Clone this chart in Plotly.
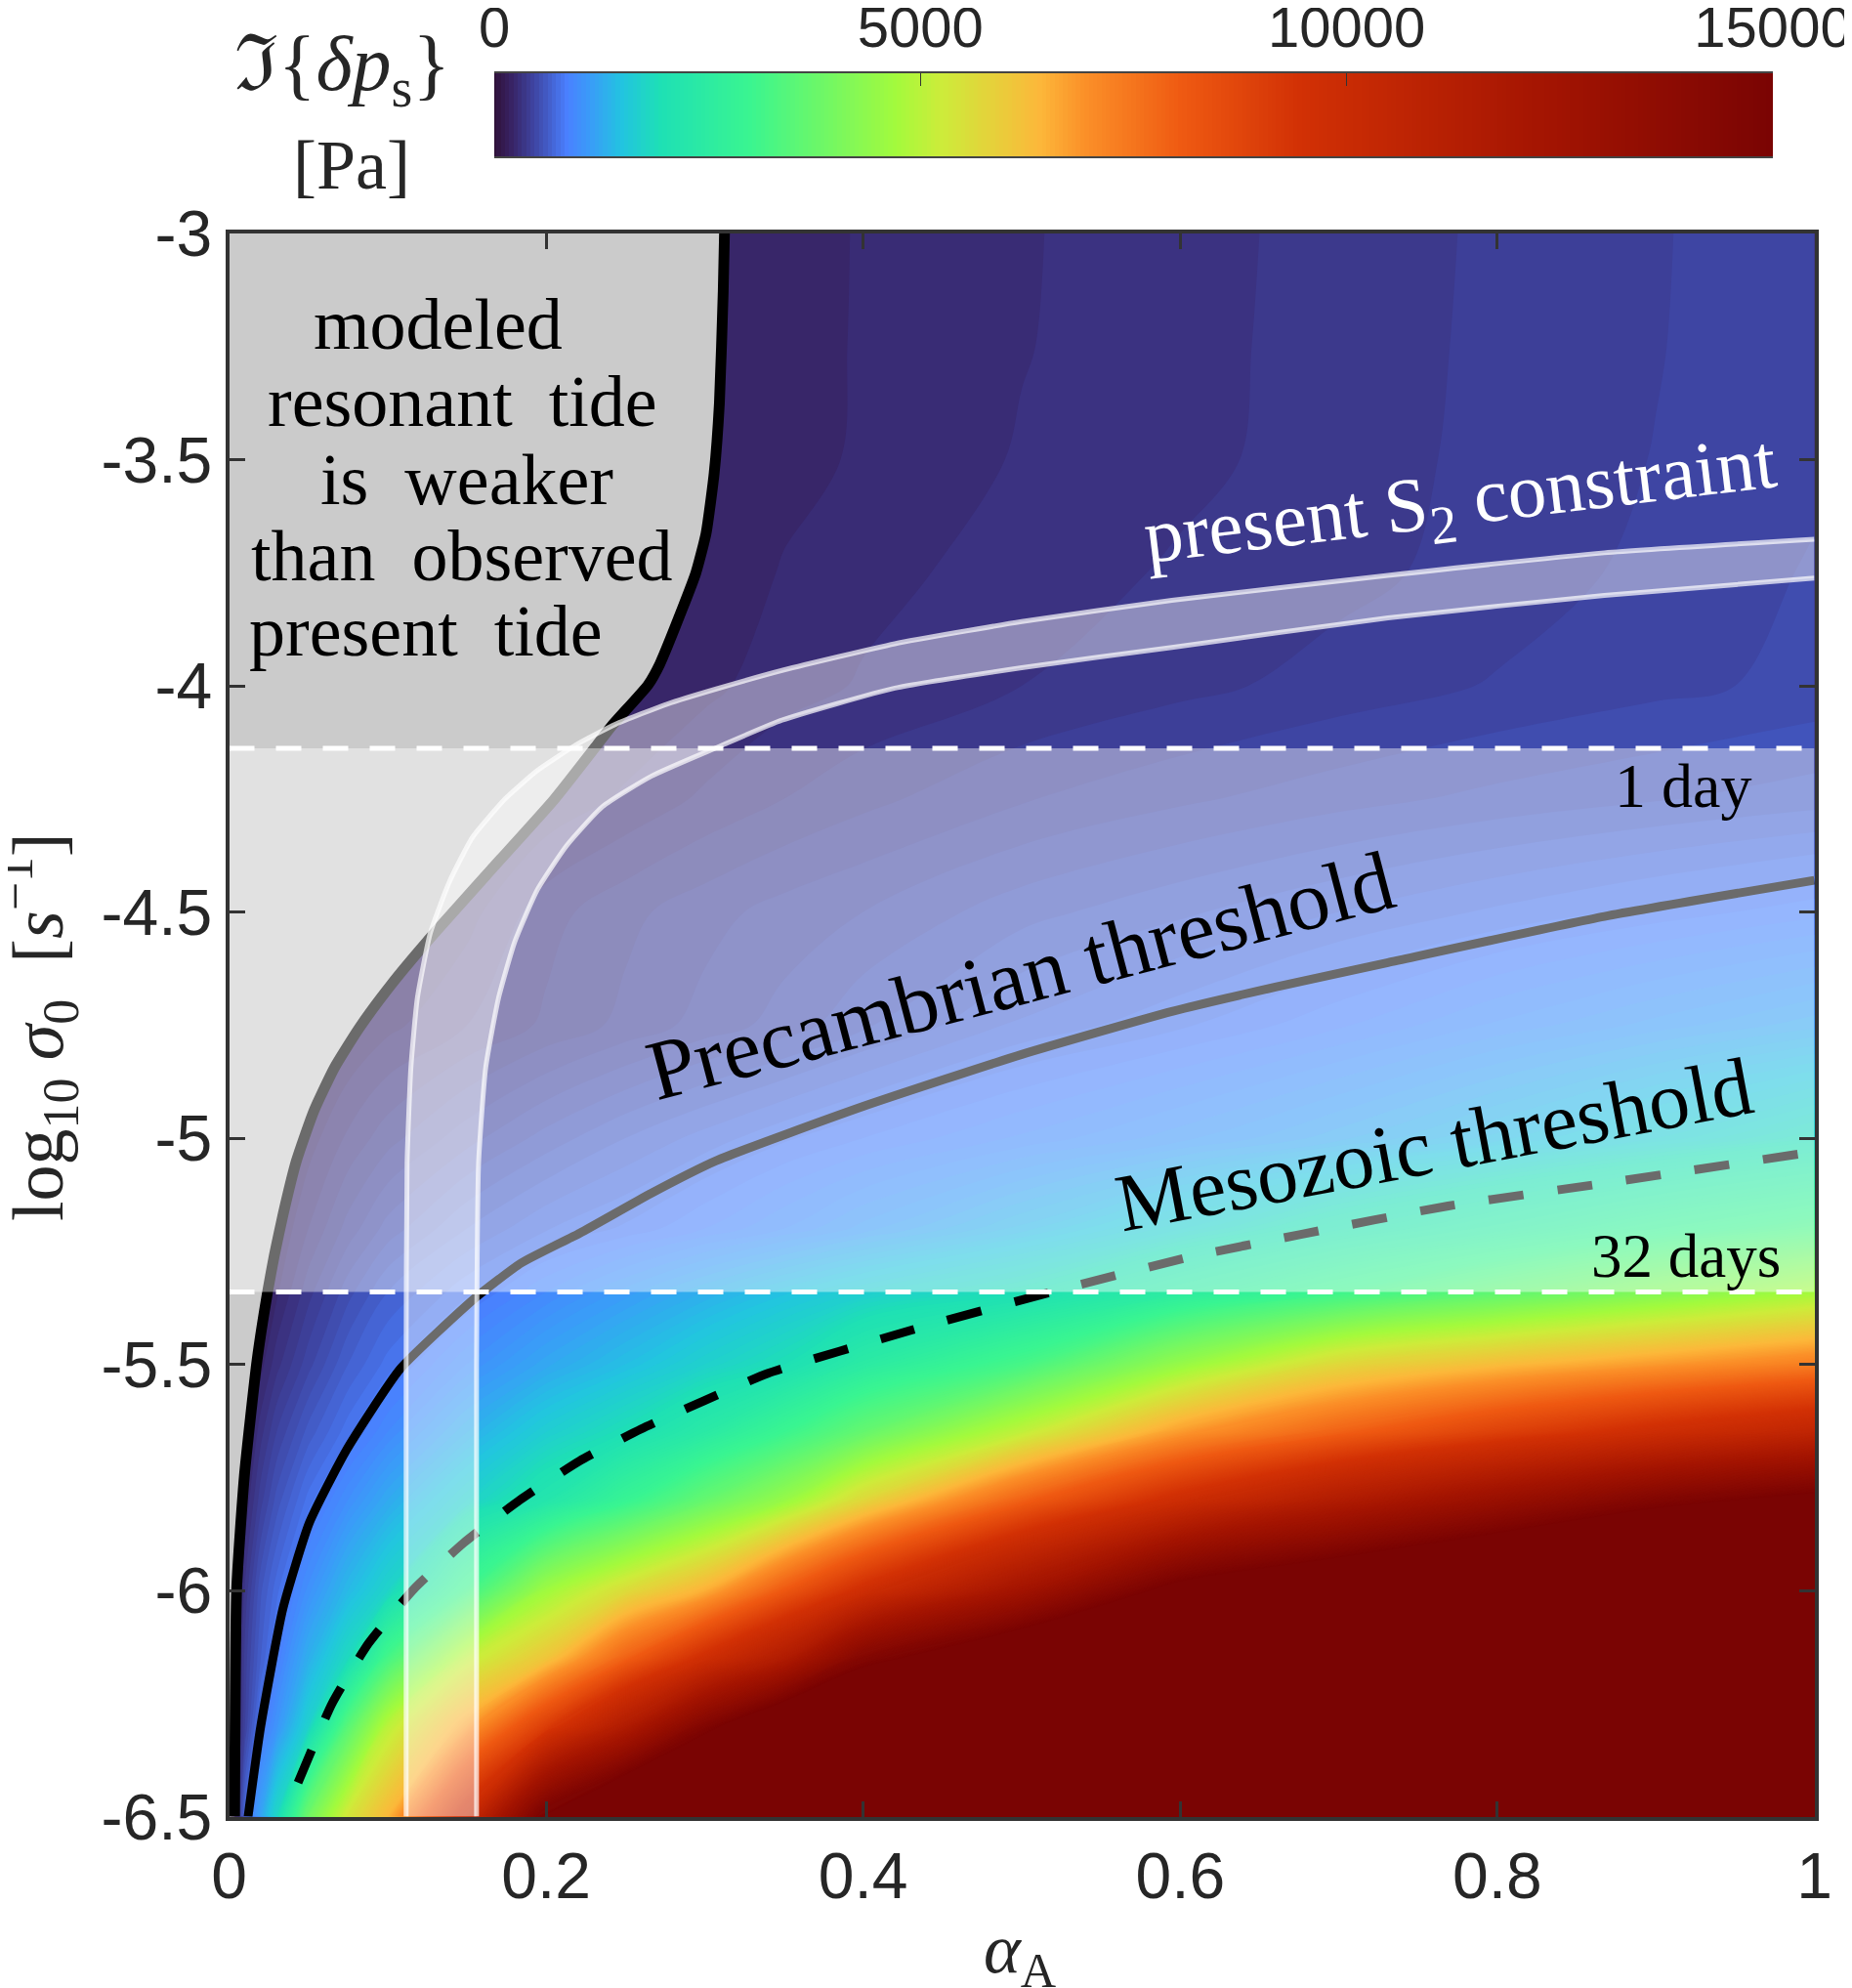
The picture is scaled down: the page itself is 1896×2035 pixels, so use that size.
"""Imaginary surface pressure response over alpha_A and log10 sigma_0, with tide thresholds."""

import plotly.graph_objects as go

# grid (Pa)
ALPHA = [0, 0.005, 0.01, 0.02, 0.03, 0.05, 0.075, 0.1, 0.15, 0.2, 0.25, 0.3, 0.35, 0.4, 0.5, 0.6, 0.7, 0.8, 0.9, 1]
LOG_SIGMA = [-3, -3.25, -3.5, -3.75, -4, -4.25, -4.5, -4.75, -5, -5.2, -5.34, -5.5, -5.65, -5.8, -6, -6.15, -6.3, -6.5]
Z_3_00 = [0, 5, 10, 20, 30, 50, 70, 90, 110, 130, 150, 190, 225, 255, 295, 330, 370, 410, 445, 490]
Z_3_25 = [0, 5, 10, 20, 30, 50, 70, 90, 110, 130, 150, 190, 226, 256, 297, 332, 372, 412, 447, 491]
Z_3_50 = [0, 5, 10, 20, 30, 50, 70, 90, 115, 135, 160, 195, 230, 258, 305, 335, 375, 415, 452, 490]
Z_3_75 = [0, 5, 10, 20, 30, 50, 70, 90, 120, 145, 175, 205, 255, 285, 320, 358, 385, 420, 465, 505]
Z_4_00 = [0, 4, 8, 17, 25, 45, 65, 85, 120, 150, 190, 235, 280, 305, 350, 385, 420, 455, 485, 515]
Z_4_25 = [0, 5, 10, 20, 30, 50, 75, 100, 160, 210, 260, 310, 350, 385, 445, 490, 530, 565, 595, 625]
Z_4_50 = [0, 7, 15, 30, 45, 75, 110, 150, 230, 330, 385, 430, 470, 500, 580, 640, 700, 760, 820, 880]
Z_4_75 = [0, 14, 28, 55, 80, 130, 190, 235, 300, 360, 415, 470, 520, 590, 710, 790, 890, 1010, 1120, 1230]
Z_5_00 = [0, 25, 50, 100, 150, 225, 310, 380, 480, 570, 650, 720, 790, 850, 960, 1080, 1230, 1420, 1650, 1900]
Z_5_20 = [0, 35, 70, 140, 200, 300, 420, 520, 650, 745, 810, 900, 1000, 1120, 1370, 1690, 2080, 2450, 2850, 3200]
Z_5_34 = [0, 40, 85, 170, 240, 380, 530, 650, 785, 950, 1120, 1300, 1480, 1660, 1950, 2500, 3050, 3600, 4150, 4700]
Z_5_50 = [0, 70, 130, 230, 330, 480, 650, 770, 1000, 1230, 1450, 1700, 1950, 2450, 3200, 4500, 5700, 6300, 6800, 7300]
Z_5_65 = [0, 100, 190, 330, 450, 620, 780, 950, 1300, 1650, 1950, 2400, 3000, 3700, 5100, 6800, 7900, 8900, 9800, 10600]
Z_5_80 = [0, 120, 250, 430, 570, 770, 1000, 1250, 1700, 2200, 2900, 3700, 4500, 5700, 7900, 9800, 11500, 13000, 14500, 15500]
Z_6_00 = [0, 200, 360, 590, 730, 1020, 1400, 1750, 3100, 4650, 5600, 6500, 8100, 9700, 12400, 15600, 17000, 18500, 20000, 21000]
Z_6_15 = [0, 220, 420, 650, 840, 1300, 1850, 3200, 5100, 6100, 7900, 9700, 11500, 14400, 17000, 19000, 21000, 22000, 23000, 24000]
Z_6_30 = [0, 250, 450, 800, 1050, 1700, 3500, 5000, 6700, 9000, 11500, 14500, 17000, 19000, 22000, 24000, 25000, 26000, 27000, 28000]
Z_6_50 = [0, 350, 700, 1200, 1800, 3900, 5400, 6400, 10000, 15300, 18000, 20000, 22000, 24000, 26000, 28000, 29000, 30000, 31000, 32000]
Z_ROWS = [Z_3_00, Z_3_25, Z_3_50, Z_3_75, Z_4_00, Z_4_25, Z_4_50, Z_4_75, Z_5_00, Z_5_20, Z_5_34,
          Z_5_50, Z_5_65, Z_5_80, Z_6_00, Z_6_15, Z_6_30, Z_6_50]

# threshold curves
PRESENT_X = [0.3125, 0.3117, 0.3093, 0.306, 0.3009, 0.2945, 0.286, 0.2717, 0.2643, 0.2413, 0.2305, 0.2049, 0.167, 0.125,
             0.1024, 0.082, 0.0665, 0.0535, 0.0425, 0.034, 0.0285, 0.0246, 0.0177, 0.0097, 0.0048, 0.0035]
PRESENT_Y = [-3, -3.128, -3.375, -3.53, -3.663, -3.75, -3.829, -3.952, -3.998, -4.089, -4.138, -4.252, -4.40, -4.565,
             -4.66, -4.757, -4.844, -4.94, -5.05, -5.17, -5.26, -5.334, -5.49, -5.745, -5.997, -6.5]
PRECAMBRIAN_X = [0.012, 0.02, 0.034, 0.0507, 0.074, 0.108, 0.1557, 0.1844, 0.2213, 0.2663, 0.3073, 0.4, 0.5, 0.5947, 0.66, 0.731, 0.8675, 1]
PRECAMBRIAN_Y = [-6.5, -6.3, -6.04, -5.85, -5.69, -5.51, -5.352, -5.276, -5.21, -5.122, -5.05, -4.93, -4.815, -4.72, -4.666, -4.612, -4.51, -4.43]
MESOZOIC_X = [0.0435, 0.065, 0.088, 0.1166, 0.148, 0.1835, 0.221, 0.26, 0.30, 0.34, 0.43, 0.519, 0.606, 0.676, 0.769, 0.8675, 1]
MESOZOIC_Y = [-6.425, -6.25, -6.117, -5.997, -5.895, -5.80, -5.714, -5.643, -5.58, -5.52, -5.425, -5.34, -5.263, -5.213, -5.15, -5.10, -5.03]

# present S2 band edges
S2_UPPER_X = [0.1117, 0.1117, 0.1123, 0.1147, 0.1188, 0.127, 0.1393, 0.1537, 0.1741, 0.1946, 0.2192, 0.2438, 0.2766,
              0.3073, 0.35, 0.42, 0.5, 0.5947, 0.731, 0.8675, 1]
S2_UPPER_Y = [-6.5, -5.505, -5.055, -4.844, -4.69, -4.546, -4.431, -4.334, -4.25, -4.187, -4.13, -4.085, -4.04,
              -4.007, -3.965, -3.907, -3.858, -3.811, -3.756, -3.706, -3.676]
S2_LOWER_X = [0.1561, 0.1561, 0.1574, 0.1619, 0.17, 0.1803, 0.1946, 0.213, 0.2356, 0.2663, 0.3073, 0.3488, 0.42, 0.5,
              0.5947, 0.731, 0.8675, 1]
S2_LOWER_Y = [-6.5, -5.505, -5.055, -4.844, -4.69, -4.565, -4.45, -4.353, -4.267, -4.2, -4.137, -4.076, -4.005, -3.96,
              -3.915, -3.85, -3.80, -3.762]

DAY_1 = -4.138
DAYS_32 = -5.34

COLOR_FRACS = [0, 0.012, 0.033, 0.057, 0.075, 0.1, 0.13, 0.2, 0.315, 0.35, 0.426, 0.463, 0.537, 0.63, 0.815, 1]
COLOR_VALUES = ["#30123b", "#37205f", "#3f48a8", "#4a80ff", "#3a9cf8", "#22c4e0", "#1ee0b5", "#3af590", "#a4fa3c",
                "#cdec3a", "#fcb83a", "#fb8f28", "#ef5a12", "#d23105", "#a51502", "#7a0403"]

X_TICKS = [0, 0.2, 0.4, 0.6, 0.8, 1]
X_TICK_LABELS = ["0", "0.2", "0.4", "0.6", "0.8", "1"]
Y_TICKS = [-3, -3.5, -4, -4.5, -5, -5.5, -6, -6.5]
Y_TICK_LABELS = ["-3", "-3.5", "-4", "-4.5", "-5", "-5.5", "-6", "-6.5"]
CBAR_TICKS = [0, 5000, 10000, 15000]
CBAR_TICK_LABELS = ["0", "5000", "10000", "15000"]
CBAR_LEVELS = list(range(0, 15001, 50))

# the page has an 8 px body margin, so the figure is that much smaller
BODY = 8
WIDTH = 1896 - BODY
HEIGHT = 2035 - BODY
LEFT, RIGHT, TOP, BOTTOM = 234.5, 1857.5, 239, 1859.5
SERIF = "Liberation Serif"
SANS = "Liberation Sans"
DARK = "#262626"


def px_x(px):
    return (px - BODY) / WIDTH


def px_y(py):
    return 1 - (py - BODY) / HEIGHT


def curve(x, y, color, width, dash="solid"):
    return go.Scatter(x=x, y=y, mode="lines",
                      line=dict(color=color, width=width, dash=dash, shape="spline", smoothing=0.5),
                      hoverinfo="skip", showlegend=False)


def patch(x, y, color):
    return go.Scatter(x=x, y=y, mode="none", fill="toself", fillcolor=color,
                      hoverinfo="skip", showlegend=False)


fig = go.Figure()

colorscale = [[f, c] for f, c in zip(COLOR_FRACS, COLOR_VALUES)]

fig.add_trace(go.Contour(
    x=ALPHA,
    y=LOG_SIGMA,
    z=Z_ROWS,
    zmin=0,
    zmax=15000,
    colorscale=colorscale,
    contours=dict(coloring="fill", start=0, end=15000, size=50, showlines=False),
    line=dict(width=0, smoothing=1),
    hoverinfo="skip",
    showscale=False,
))

fig.add_trace(patch(PRESENT_X + [0, 0], PRESENT_Y + [-6.5, -3], "#cbcbcb"))
fig.add_trace(curve(PRESENT_X, PRESENT_Y, "black", 11))
fig.add_trace(curve(PRECAMBRIAN_X, PRECAMBRIAN_Y, "black", 9))
fig.add_trace(curve(MESOZOIC_X, MESOZOIC_Y, "black", 9, "36px,35px"))

fig.add_trace(patch(S2_UPPER_X + S2_LOWER_X[::-1], S2_UPPER_Y + S2_LOWER_Y[::-1], "rgba(255,255,255,0.42)"))
fig.add_trace(curve(S2_UPPER_X, S2_UPPER_Y, "rgba(255,255,255,0.7)", 5))
fig.add_trace(curve(S2_LOWER_X, S2_LOWER_Y, "rgba(255,255,255,0.7)", 5))

fig.add_trace(patch([0, 1, 1, 0], [DAY_1, DAY_1, DAYS_32, DAYS_32], "rgba(255,255,255,0.42)"))
fig.add_trace(curve([0, 1], [DAY_1, DAY_1], "white", 5, "26px,22px"))
fig.add_trace(curve([0, 1], [DAYS_32, DAYS_32], "white", 5, "26px,22px"))

# colour bar as its own small axes, the built in one cannot put labels on top
fig.add_trace(go.Heatmap(
    x=CBAR_LEVELS,
    y=[0, 1],
    z=[CBAR_LEVELS, CBAR_LEVELS],
    zmin=0,
    zmax=15000,
    colorscale=colorscale,
    showscale=False,
    hoverinfo="skip",
    xaxis="x2",
    yaxis="y2",
))

# text inside the axes, (text, alpha, log sigma, size, angle, colour)
labels = [
    ("modeled", 0.132, -3.201, 74, 0, "black"),
    ("resonant  tide", 0.147, -3.372, 74, 0, "black"),
    ("is  weaker", 0.150, -3.545, 74, 0, "black"),
    ("than  observed", 0.147, -3.713, 74, 0, "black"),
    ("present  tide", 0.124, -3.88, 74, 0, "black"),
    ("present S<sub>2</sub> constraint", 0.777, -3.60, 79, -6.9, "white"),
    ("Precambrian threshold", 0.499, -4.641, 87, -14.7, "black"),
    ("Mesozoic threshold", 0.76, -5.013, 84, -10.7, "black"),
    ("1 day", 0.917, -4.222, 64, 0, "black"),
    ("32 days", 0.919, -5.262, 63, 0, "black"),
]
for text, x, y, size, angle, color in labels:
    fig.add_annotation(x=x, y=y, xref="x", yref="y", text=text, showarrow=False, textangle=angle,
                       xanchor="center", yanchor="middle", font=dict(family=SERIF, size=size, color=color))

# axis and colour bar titles, placed in page pixels
page_labels = [
    ("ℑ{<i>δp</i><sub>s</sub>}", 350, 71, 80, 0),
    ("[Pa]", 360, 169, 72, 0),
    ("log<sub>10</sub> <i>σ</i><sub>0</sub>  [<i>s</i><sup>−1</sup>]", 39, 1051, 74, -90),
    ("<i>α</i><sub>A</sub>", 1044, 2000, 72, 0),
]
for text, px, py, size, angle in page_labels:
    fig.add_annotation(x=px_x(px), y=px_y(py), xref="paper", yref="paper", text=text, showarrow=False,
                       textangle=angle, xanchor="center", yanchor="middle",
                       font=dict(family=SERIF, size=size, color=DARK))

axis_style = dict(
    showline=True,
    linecolor="#333333",
    linewidth=4,
    mirror="allticks",
    ticks="inside",
    ticklen=16,
    tickwidth=3,
    tickcolor="#333333",
    showgrid=False,
    zeroline=False,
    tickfont=dict(family=SANS, size=66, color=DARK),
)

fig.update_layout(
    width=WIDTH,
    height=HEIGHT,
    margin=dict(l=0, r=0, t=0, b=0, autoexpand=False),
    paper_bgcolor="white",
    plot_bgcolor="white",
    showlegend=False,
    xaxis=dict(range=[0, 1], tickvals=X_TICKS, ticktext=X_TICK_LABELS,
               domain=[px_x(LEFT), px_x(RIGHT)], **axis_style),
    yaxis=dict(range=[-6.5, -3], tickvals=Y_TICKS, ticktext=Y_TICK_LABELS,
               domain=[px_y(BOTTOM), px_y(TOP)], **axis_style),
    xaxis2=dict(range=[0, 15000], tickvals=CBAR_TICKS, ticktext=CBAR_TICK_LABELS, side="top",
                domain=[px_x(506), px_x(1815)], anchor="y2", showline=True, linecolor="#444444",
                linewidth=2, mirror=True, ticks="inside", ticklen=13, tickwidth=1, tickcolor="#333333",
                showgrid=False, zeroline=False, ticklabelstandoff=2,
                tickfont=dict(family=SANS, size=58, color=DARK)),
    yaxis2=dict(range=[0, 1], domain=[px_y(160), px_y(75)], anchor="x2", showticklabels=False,
                ticks="", showgrid=False, zeroline=False),
)

fig.write_html("out.html")
